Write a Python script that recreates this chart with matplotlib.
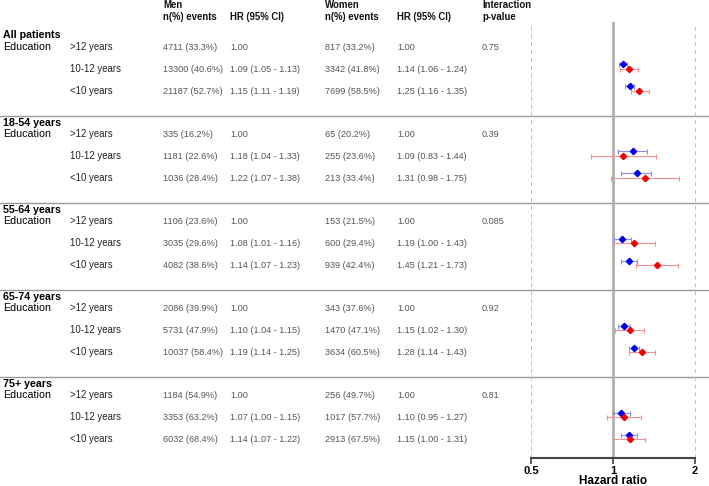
import numpy as np
import matplotlib as mpl
mpl.use('Agg')
import matplotlib.pyplot as plt

mpl.rc('font', family='Liberation Sans')

# --- data ---
groups = ['All patients', '18-54 years', '55-64 years', '65-74 years', '75+ years']
levels = ['>12 years', '10-12 years', '<10 years']
p_inter = ['0.75', '0.39', '0.085', '0.92', '0.81']

men_n = [['4711 (33.3%)', '13300 (40.6%)', '21187 (52.7%)'],
         ['335 (16.2%)', '1181 (22.6%)', '1036 (28.4%)'],
         ['1106 (23.6%)', '3035 (29.6%)', '4082 (38.6%)'],
         ['2086 (39.9%)', '5731 (47.9%)', '10037 (58.4%)'],
         ['1184 (54.9%)', '3353 (63.2%)', '6032 (68.4%)']]
women_n = [['817 (33.2%)', '3342 (41.8%)', '7699 (58.5%)'],
           ['65 (20.2%)', '255 (23.6%)', '213 (33.4%)'],
           ['153 (21.5%)', '600 (29.4%)', '939 (42.4%)'],
           ['343 (37.6%)', '1470 (47.1%)', '3634 (60.5%)'],
           ['256 (49.7%)', '1017 (57.7%)', '2913 (67.5%)']]

# HR, lower, upper for 10-12 and <10 years (>12 is reference 1.00)
men_hr = [[(1.09, 1.05, 1.13), (1.15, 1.11, 1.19)],
          [(1.18, 1.04, 1.33), (1.22, 1.07, 1.38)],
          [(1.08, 1.01, 1.16), (1.14, 1.07, 1.23)],
          [(1.10, 1.04, 1.15), (1.19, 1.14, 1.25)],
          [(1.07, 1.00, 1.15), (1.14, 1.07, 1.22)]]
women_hr = [[(1.14, 1.06, 1.24), (1.25, 1.16, 1.35)],
            [(1.09, 0.83, 1.44), (1.31, 0.98, 1.75)],
            [(1.19, 1.00, 1.43), (1.45, 1.21, 1.73)],
            [(1.15, 1.02, 1.30), (1.28, 1.14, 1.43)],
            [(1.10, 0.95, 1.27), (1.15, 1.00, 1.31)]]


def hr_text(v):
    return '{0:.2f} ({1:.2f} - {2:.2f})'.format(*v)


W, H = 709, 486
fig = plt.figure(figsize=(W / 100, H / 100), dpi=100)

# table axes in pixel units
tab = fig.add_axes([0, 0, 1, 1])
tab.set_xlim(0, W)
tab.set_ylim(H, 0)
tab.axis('off')

# forest axes: 0.5..2 on log scale
x05, x2, ytop, ybot = 531, 695, 22, 458
fp = fig.add_axes([x05 / W, (H - ybot) / H, (x2 - x05) / W, (ybot - ytop) / H])
fp.set_xscale('log')
fp.set_xlim(0.5, 2)
fp.set_ylim(ybot, ytop)
fp.patch.set_alpha(0)

col_lab, col_lev = 3, 70
col_mn, col_mhr, col_wn, col_whr, col_p = 163, 230, 325, 397, 482
num_kw = dict(fontsize=6.6, color='#555555', va='center')
lab_kw = dict(fontsize=6.9, color='#222222', va='center')
hdr_kw = dict(fontsize=6.9, fontweight='bold', color='#111111', va='center')

# header
tab.text(col_mn, 5.5, 'Men', **hdr_kw)
tab.text(col_mn, 16.5, 'n(%) events', **hdr_kw)
tab.text(col_mhr, 16.5, 'HR (95% CI)', **hdr_kw)
tab.text(col_wn, 5.5, 'Women', **hdr_kw)
tab.text(col_wn, 16.5, 'n(%) events', **hdr_kw)
tab.text(col_whr, 16.5, 'HR (95% CI)', **hdr_kw)
tab.text(col_p, 5.5, 'Interaction', **hdr_kw)
tab.text(col_p, 16.5, 'p-value', **hdr_kw)

row0, gstep, rstep = 47, 87, 22
for g, name in enumerate(groups):
    y0 = row0 + g * gstep
    if g > 0:
        tab.axhline(y0 - 18, color='#999999', lw=1)
    tab.text(col_lab, y0 - 11.5, name, fontsize=7.7, fontweight='bold', va='center')
    tab.text(col_lab, y0, 'Education', fontsize=7.7, va='center')
    tab.text(col_p, y0, p_inter[g], **num_kw)
    for r, lev in enumerate(levels):
        y = y0 + r * rstep
        tab.text(col_lev, y, lev, **lab_kw)
        tab.text(col_mn, y, men_n[g][r], **num_kw)
        tab.text(col_wn, y, women_n[g][r], **num_kw)
        if r == 0:
            tab.text(col_mhr, y, '1.00', **num_kw)
            tab.text(col_whr, y, '1.00', **num_kw)
        else:
            tab.text(col_mhr, y, hr_text(men_hr[g][r - 1]), **num_kw)
            tab.text(col_whr, y, hr_text(women_hr[g][r - 1]), **num_kw)
            # forest marks: men slightly above women
            m = men_hr[g][r - 1]
            w = women_hr[g][r - 1]
            fp.errorbar(m[0], y - 4.5, xerr=[[m[0] - m[1]], [m[2] - m[0]]],
                        fmt='none', ecolor='#8c8cf0', elinewidth=0.8,
                        capsize=1.8, capthick=0.8, zorder=3)
            fp.plot(m[0], y - 4.5, marker='D', ms=3.2, color='#0000ee',
                    ls='none', zorder=4)
            fp.errorbar(w[0], y, xerr=[[w[0] - w[1]], [w[2] - w[0]]],
                        fmt='none', ecolor='#f59090', elinewidth=0.8,
                        capsize=1.8, capthick=0.8, zorder=3)
            fp.plot(w[0], y, marker='D', ms=3.2, color='#ee0000',
                    ls='none', zorder=4)

# reference lines
fp.axvline(1, color='#b0b0b0', lw=2, zorder=1)
for xv in (0.5, 2):
    fp.axvline(xv, color='#c0c0c0', lw=0.7, ls=(0, (4, 4)), zorder=1, clip_on=False)

for s in ('top', 'left', 'right'):
    fp.spines[s].set_visible(False)
fp.spines['bottom'].set_color('#444444')
fp.spines['bottom'].set_linewidth(1.5)
fp.set_yticks([])
fp.set_xticks([0.5, 1, 2])
fp.set_xticklabels(['0.5', '1', '2'], fontweight='bold', fontsize=8)
fp.xaxis.set_minor_locator(mpl.ticker.NullLocator())
fp.tick_params(axis='x', direction='out', length=4, width=1.2, color='#444444', pad=1.5)
fp.set_xlabel('Hazard ratio', fontweight='bold', fontsize=8.5)
fp.xaxis.set_label_coords(0.5, -0.039)

fig.savefig('out.png', dpi=100)
